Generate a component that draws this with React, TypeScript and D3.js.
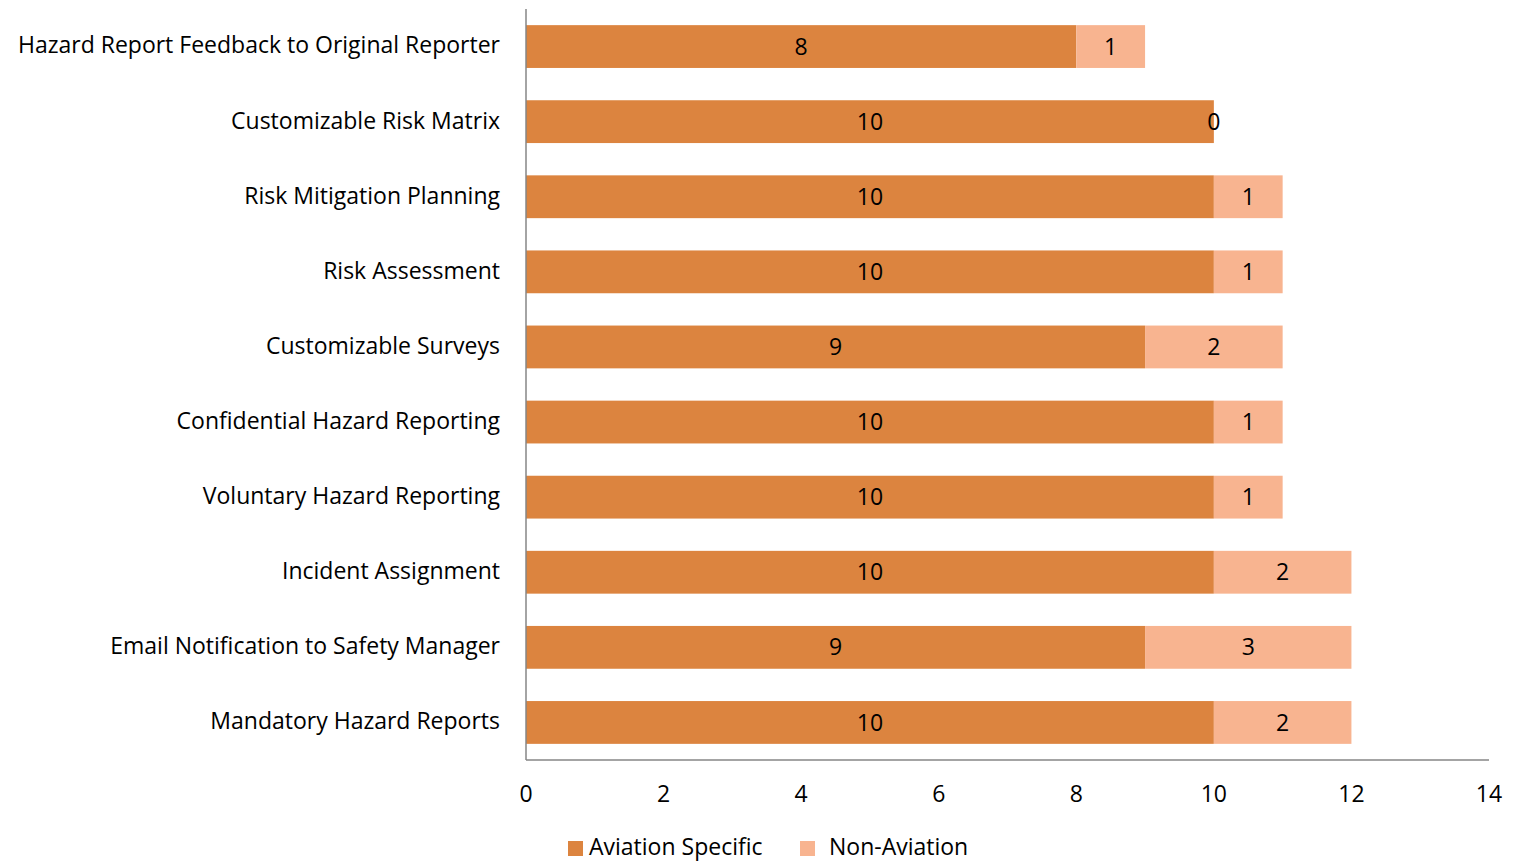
import React from "react";
import * as d3 from "d3";

const categories = [
  "Hazard Report Feedback to Original Reporter",
  "Customizable Risk Matrix",
  "Risk Mitigation Planning",
  "Risk Assessment",
  "Customizable Surveys",
  "Confidential Hazard Reporting",
  "Voluntary Hazard Reporting",
  "Incident Assignment",
  "Email Notification to Safety Manager",
  "Mandatory Hazard Reports",
];
const aviationSpecific = [8, 10, 10, 10, 9, 10, 10, 10, 9, 10];
const nonAviation = [1, 0, 1, 1, 2, 1, 1, 2, 3, 2];
const seriesNames = ["Aviation Specific", "Non-Aviation"];
const xTicks = [0, 2, 4, 6, 8, 10, 12, 14];

const COLORS = ["#DC843F", "#F8B490"];
const FONT = "'Open Sans', sans-serif";
const FS = 23;

export default function App() {
  const W = 1515, H = 863;
  const left = 526, right = 1489, top = 9, bottom = 760;
  const x = d3.scaleLinear().domain([0, 14]).range([left, right]);
  const y = d3.scaleBand().domain(categories).range([top, bottom]).paddingInner(0.43).paddingOuter(0.215);
  const stack = d3.stack<any>().keys(["a", "n"])(
    categories.map((c, i) => ({ c, a: aviationSpecific[i], n: nonAviation[i] }))
  );
  return (
    <svg width={W} height={H} style={{ position: "absolute", left: 0, top: 0 }} fontFamily={FONT}>
      {stack.map((s, si) =>
        s.map((d, i) => {
          const x0 = x(d[0]), x1 = x(d[1]);
          const yy = y(categories[i])!;
          const v = d[1] - d[0];
          return (
            <g key={`${si}-${i}`}>
              <rect x={x0} y={yy} width={x1 - x0} height={y.bandwidth()} fill={COLORS[si]} />
              <text x={(x0 + x1) / 2} y={yy + y.bandwidth() / 2} dy="0.35em" textAnchor="middle" fontSize={FS} fill="#000">
                {v}
              </text>
            </g>
          );
        })
      )}
      <line x1={left} x2={left} y1={top} y2={bottom} stroke="#868686" strokeWidth={1.5} />
      <line x1={left} x2={right} y1={bottom} y2={bottom} stroke="#868686" strokeWidth={1.5} />
      {categories.map((c) => (
        <text key={c} x={500} y={y(c)! + y.bandwidth() / 2} dy="0.3em" textAnchor="end" fontSize={FS} fill="#000">
          {c}
        </text>
      ))}
      {xTicks.map((t) => (
        <text key={t} x={x(t)} y={794} dy="0.35em" textAnchor="middle" fontSize={FS} fill="#000">
          {t}
        </text>
      ))}
      <g>
        <rect x={568} y={841} width={15} height={15} fill={COLORS[0]} />
        <text x={589} y={847} dy="0.35em" fontSize={FS} fill="#000">{seriesNames[0]}</text>
        <rect x={800} y={841} width={15} height={15} fill={COLORS[1]} />
        <text x={829} y={847} dy="0.35em" fontSize={FS} fill="#000">{seriesNames[1]}</text>
      </g>
    </svg>
  );
}
